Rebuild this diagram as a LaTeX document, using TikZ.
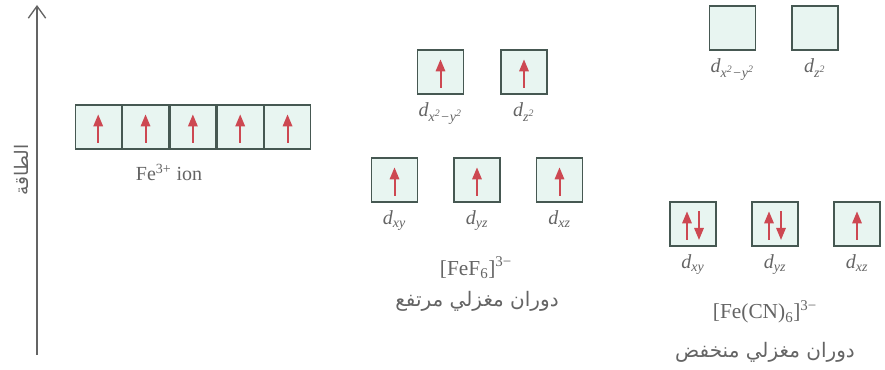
\documentclass[tikz,border=0pt]{standalone}
\usepackage{fontspec}
\setmainfont{Liberation Serif}
\newfontfamily\arabicfont[Script=Arabic]{DejaVu Sans}
\TeXXeTstate=1
\usetikzlibrary{positioning,arrows.meta}
\definecolor{boxfill}{RGB}{232,245,241}
\definecolor{boxline}{RGB}{70,88,82}
\definecolor{spinred}{RGB}{205,72,82}
\definecolor{txtgray}{RGB}{100,100,100}
\newcommand{\dorb}[1]{\textit{d}\textsubscript{\textit{#1}}}

\tikzset{every picture/.style={line width=0.75pt}}
\tikzset{
  orb/.style={draw=boxline,fill=boxfill,line width=1pt,minimum width=34.5pt,minimum height=33pt,inner sep=0pt},
  spin/.style={draw=spinred,line width=1.5pt,-{Triangle[width=7pt,length=9pt]}},
  lbl/.style={text=txtgray,inner sep=0.75pt,font=\fontsize{15}{17}\selectfont},
  arlbl/.style={text=txtgray,inner sep=0.75pt,font=\arabicfont\fontsize{15}{17}\selectfont}
}

\begin{document}
\begin{tikzpicture}[x=0.75pt,y=0.75pt,yscale=-1,xscale=1]
\path[use as bounding box] (0,0) rectangle (885,370);

%Energy axis
\coordinate (axb) at (37,355);
\coordinate (axt) at (37,5);
\draw [draw=txtgray,line width=1pt,-{Straight Barb[length=9pt,width=13pt]}] (axb) -- (axt) ;
\node (axl) [arlbl,rotate=90,font=\arabicfont\fontsize{14}{16}\selectfont] at (21,170) {\beginR الطاقة\endR};

%Free ion: five d boxes
\node (f1) [orb] at (98.2,127) {};
\node (f2) [orb,right=0pt of f1] {};
\node (f3) [orb,right=0pt of f2] {};
\node (f4) [orb,right=0pt of f3] {};
\node (f5) [orb,right=0pt of f4] {};
\draw [spin] ([yshift=-5pt]f1.south) -- ([yshift=7.5pt]f1.north) ;
\draw [spin] ([yshift=-5pt]f2.south) -- ([yshift=7.5pt]f2.north) ;
\draw [spin] ([yshift=-5pt]f3.south) -- ([yshift=7.5pt]f3.north) ;
\draw [spin] ([yshift=-5pt]f4.south) -- ([yshift=7.5pt]f4.north) ;
\draw [spin] ([yshift=-5pt]f5.south) -- ([yshift=7.5pt]f5.north) ;
% Text Node
\node (fion) [lbl] at (169,172) {Fe\textsuperscript{3+} ion};

%High spin [FeF6]3-
\node (heg1) [orb] at (440.5,72) {};
\node (heg2) [orb] at (524,72) {};
\node (hxy) [orb] at (394.5,180) {};
\node (hyz) [orb] at (477,180) {};
\node (hxz) [orb] at (559.5,180) {};
\draw [spin] ([yshift=-5pt]heg1.south) -- ([yshift=7.5pt]heg1.north) ;
\draw [spin] ([yshift=-5pt]heg2.south) -- ([yshift=7.5pt]heg2.north) ;
\draw [spin] ([yshift=-5pt]hxy.south) -- ([yshift=7.5pt]hxy.north) ;
\draw [spin] ([yshift=-5pt]hyz.south) -- ([yshift=7.5pt]hyz.north) ;
\draw [spin] ([yshift=-5pt]hxz.south) -- ([yshift=7.5pt]hxz.north) ;
% Text Node
\node (lheg1) [lbl,below=5pt of heg1] {\dorb{x\textsuperscript{2}−y\textsuperscript{2}}};
\node (lheg2) [lbl,below=5pt of heg2] {\dorb{z\textsuperscript{2}}};
\node (lhxy) [lbl,below=5pt of hxy] {\dorb{xy}};
\node (lhyz) [lbl,below=5pt of hyz] {\dorb{yz}};
\node (lhxz) [lbl,below=5pt of hxz] {\dorb{xz}};
\node (hname) [lbl,font=\fontsize{16}{18}\selectfont] at (476,268) {[FeF\textsubscript{6}]\textsuperscript{3−}};
\node (hspin) [arlbl] at (477,301) {\beginR دوران مغزلي مرتفع\endR};

%Low spin [Fe(CN)6]3-
\node (leg1) [orb] at (732.5,28) {};
\node (leg2) [orb] at (815,28) {};
\node (lxy) [orb] at (693,224) {};
\node (lyz) [orb] at (775,224) {};
\node (lxz) [orb] at (857,224) {};
\draw [spin] ([xshift=-4.5pt,yshift=-5pt]lxy.south) -- ([xshift=-4.5pt,yshift=7.5pt]lxy.north) ;
\draw [spin] ([xshift=4.5pt,yshift=7.5pt]lxy.north) -- ([xshift=4.5pt,yshift=-5pt]lxy.south) ;
\draw [spin] ([xshift=-4.5pt,yshift=-5pt]lyz.south) -- ([xshift=-4.5pt,yshift=7.5pt]lyz.north) ;
\draw [spin] ([xshift=4.5pt,yshift=7.5pt]lyz.north) -- ([xshift=4.5pt,yshift=-5pt]lyz.south) ;
\draw [spin] ([yshift=-5pt]lxz.south) -- ([yshift=7.5pt]lxz.north) ;
% Text Node
\node (lleg1) [lbl,below=5pt of leg1] {\dorb{x\textsuperscript{2}−y\textsuperscript{2}}};
\node (lleg2) [lbl,below=5pt of leg2] {\dorb{z\textsuperscript{2}}};
\node (llxy) [lbl,below=5pt of lxy] {\dorb{xy}};
\node (llyz) [lbl,below=5pt of lyz] {\dorb{yz}};
\node (llxz) [lbl,below=5pt of lxz] {\dorb{xz}};
\node (lname) [lbl,font=\fontsize{16}{18}\selectfont] at (765,312) {[Fe(CN)\textsubscript{6}]\textsuperscript{3−}};
\node (lspin) [arlbl] at (765,352) {\beginR دوران مغزلي منخفض\endR};

\end{tikzpicture}
\end{document}
